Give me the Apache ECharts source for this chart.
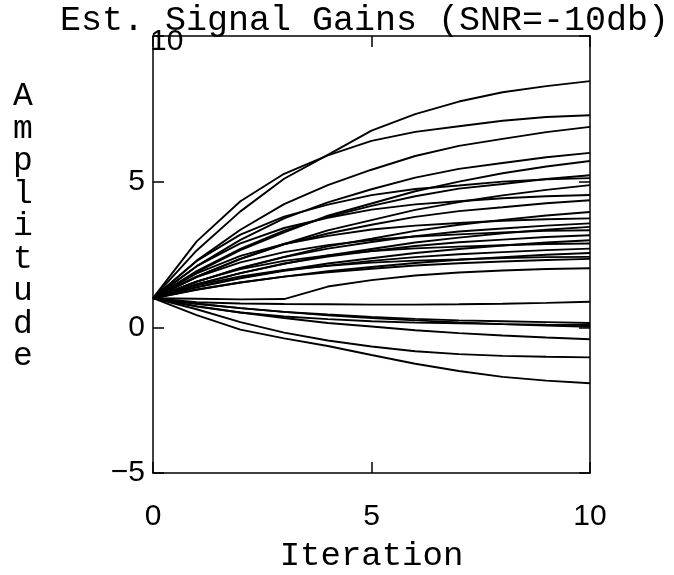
<!DOCTYPE html>
<html>
<head>
<meta charset="utf-8">
<script src="https://cdn.jsdelivr.net/npm/echarts@6/dist/echarts.min.js"></script>
<style>
  html, body { margin: 0; padding: 0; background: #fff; }
  #chart { width: 674px; height: 575px; }
</style>
</head>
<body>
<div id="chart"></div>
<script>
// Iteration index shared by every trace
const iterations = [0, 1, 2, 3, 4, 5, 6, 7, 8, 9, 10];

// Estimated gain traces, one per signal
const g01 = [1, 2.64, 3.98, 5.10, 5.92, 6.75, 7.32, 7.75, 8.07, 8.28, 8.45];
const g02 = [1, 2.95, 4.33, 5.27, 5.90, 6.40, 6.71, 6.90, 7.09, 7.22, 7.28];
const g03 = [1, 2.29, 3.35, 4.23, 4.88, 5.41, 5.88, 6.23, 6.47, 6.70, 6.88];
const g04 = [1, 2.10, 3.00, 3.74, 4.29, 4.74, 5.14, 5.44, 5.64, 5.84, 5.99];
const g05 = [1, 1.89, 2.65, 3.26, 3.83, 4.25, 4.67, 5.00, 5.29, 5.52, 5.71];
const g06 = [1, 1.93, 2.69, 3.32, 3.79, 4.17, 4.50, 4.76, 4.92, 5.09, 5.22];
const g07 = [1, 2.28, 3.18, 3.80, 4.21, 4.54, 4.75, 4.87, 5.00, 5.08, 5.12];
const g08 = [1, 1.74, 2.36, 2.86, 3.33, 3.68, 4.03, 4.30, 4.53, 4.72, 4.88];
const g09 = [1, 2.10, 2.88, 3.41, 3.76, 4.04, 4.22, 4.33, 4.43, 4.50, 4.54];
const g10 = [1, 1.74, 2.34, 2.85, 3.22, 3.52, 3.79, 3.99, 4.12, 4.26, 4.36];
const g11 = [1, 1.56, 2.04, 2.42, 2.78, 3.04, 3.31, 3.52, 3.69, 3.84, 3.96];
const g12 = [1, 1.85, 2.45, 2.86, 3.14, 3.36, 3.49, 3.58, 3.66, 3.71, 3.74];
const g13 = [1, 1.57, 2.03, 2.41, 2.70, 2.93, 3.13, 3.29, 3.39, 3.49, 3.57];
const g14 = [1, 1.47, 1.86, 2.18, 2.47, 2.69, 2.91, 3.08, 3.23, 3.35, 3.45];
const g15 = [1, 1.72, 2.23, 2.58, 2.82, 3.00, 3.12, 3.19, 3.26, 3.31, 3.33];
const g16 = [1, 1.48, 1.86, 2.19, 2.43, 2.62, 2.79, 2.92, 3.01, 3.10, 3.16];
const g17 = [1, 1.38, 1.70, 1.96, 2.19, 2.37, 2.55, 2.69, 2.81, 2.91, 2.99];
const g18 = [1, 1.58, 2.00, 2.28, 2.47, 2.62, 2.71, 2.77, 2.82, 2.86, 2.88];
const g19 = [1, 1.37, 1.68, 1.94, 2.12, 2.28, 2.41, 2.51, 2.58, 2.65, 2.70];
const g20 = [1, 1.29, 1.54, 1.74, 1.93, 2.07, 2.21, 2.32, 2.41, 2.49, 2.55];
const g21 = [1, 1.44, 1.75, 1.97, 2.11, 2.22, 2.29, 2.33, 2.38, 2.41, 2.42];
const g22 = [1, 1.30, 1.54, 1.74, 1.89, 2.01, 2.12, 2.20, 2.26, 2.31, 2.35];
const g23 = [1, 0.98, 0.96, 0.97, 1.40, 1.62, 1.78, 1.88, 1.95, 2.00, 2.03];
const g24 = [1, 0.86, 0.82, 0.80, 0.79, 0.78, 0.78, 0.79, 0.81, 0.84, 0.88];
const g25 = [1, 0.81, 0.66, 0.53, 0.44, 0.36, 0.29, 0.24, 0.21, 0.18, 0.15];
const g26 = [1, 0.71, 0.51, 0.37, 0.28, 0.21, 0.16, 0.14, 0.11, 0.09, 0.08];
const g27 = [1, 0.81, 0.66, 0.53, 0.41, 0.32, 0.24, 0.17, 0.11, 0.06, 0.02];
const g28 = [1, 0.73, 0.51, 0.32, 0.15, 0.03, -0.10, -0.20, -0.28, -0.35, -0.41];
const g29 = [1, 0.62, 0.18, -0.18, -0.45, -0.66, -0.82, -0.92, -0.98, -1.01, -1.03];
const g30 = [1, 0.42, -0.08, -0.38, -0.64, -0.95, -1.25, -1.50, -1.70, -1.83, -1.92];

const traces = [g01, g02, g03, g04, g05, g06, g07, g08, g09, g10,
                g11, g12, g13, g14, g15, g16, g17, g18, g19, g20,
                g21, g22, g23, g24, g25, g26, g27, g28, g29, g30];

// Axis ticks
const xTicks = [0, 5, 10];
const yTicks = [-5, 0, 5, 10];

const monoFont = '"Liberation Mono", "DejaVu Sans Mono", monospace';
const numFont = '"Liberation Sans", "DejaVu Sans", sans-serif';

const chart = echarts.init(document.getElementById('chart'), null, { renderer: 'canvas' });

const series = traces.map(function (t) {
  return {
    type: 'line',
    data: iterations.map(function (it, k) { return [it, t[k]]; }),
    showSymbol: false,
    symbol: 'none',
    smooth: false,
    lineStyle: { color: '#000', width: 1.9 },
    silent: true,
    animation: false
  };
});

const boxLine = { show: true, onZero: false, lineStyle: { color: '#000', width: 1.5 } };
const innerTick = { show: true, inside: true, length: 11, lineStyle: { color: '#000', width: 1.5 } };

chart.setOption({
  animation: false,
  backgroundColor: '#fff',
  grid: { left: 153, right: 84, top: 36, bottom: 102, containLabel: false, outerBoundsMode: 'none' },
  xAxis: [
    {
      type: 'value', position: 'bottom',
      min: xTicks[0], max: xTicks[xTicks.length - 1], interval: 5,
      axisLine: boxLine, axisTick: innerTick, splitLine: { show: false },
      axisLabel: { color: '#000', fontFamily: numFont, fontSize: 30, margin: 29 },
      name: 'Iteration', nameLocation: 'middle', nameGap: 66,
      nameTextStyle: { color: '#000', fontFamily: monoFont, fontSize: 34 }
    },
    {
      type: 'value', position: 'top',
      min: xTicks[0], max: xTicks[xTicks.length - 1], interval: 5,
      axisLine: boxLine, axisTick: innerTick, splitLine: { show: false },
      axisLabel: { show: false }
    }
  ],
  yAxis: [
    {
      type: 'value', position: 'left',
      min: yTicks[0], max: yTicks[yTicks.length - 1], interval: 5,
      axisLine: boxLine, axisTick: innerTick, splitLine: { show: false },
      axisLabel: {
        color: '#000', fontFamily: numFont, fontSize: 30, margin: 8,
        formatter: function (v) { return v === 10 ? '' : String(v).replace('-', '\u2212'); }
      }
    },
    {
      type: 'value', position: 'right',
      min: yTicks[0], max: yTicks[yTicks.length - 1], interval: 5,
      axisLine: boxLine, axisTick: innerTick, splitLine: { show: false },
      axisLabel: { show: false }
    }
  ],
  graphic: [
    {
      type: 'text', left: 60, top: 3,
      style: { text: 'Est. Signal Gains (SNR=-10db)', font: '35px ' + monoFont, fill: '#000' },
      z: 10
    },
    {
      type: 'text', left: 150, top: 27,
      style: { text: '10', font: '30px ' + numFont, fill: '#000' },
      z: 11
    },
    {
      type: 'text', left: 13, top: 80,
      style: {
        text: 'A\nm\np\nl\ni\nt\nu\nd\ne',
        font: '33px ' + monoFont, fill: '#000', lineHeight: 32.5, align: 'left'
      }
    }
  ],
  series: series
});
</script>
</body>
</html>
